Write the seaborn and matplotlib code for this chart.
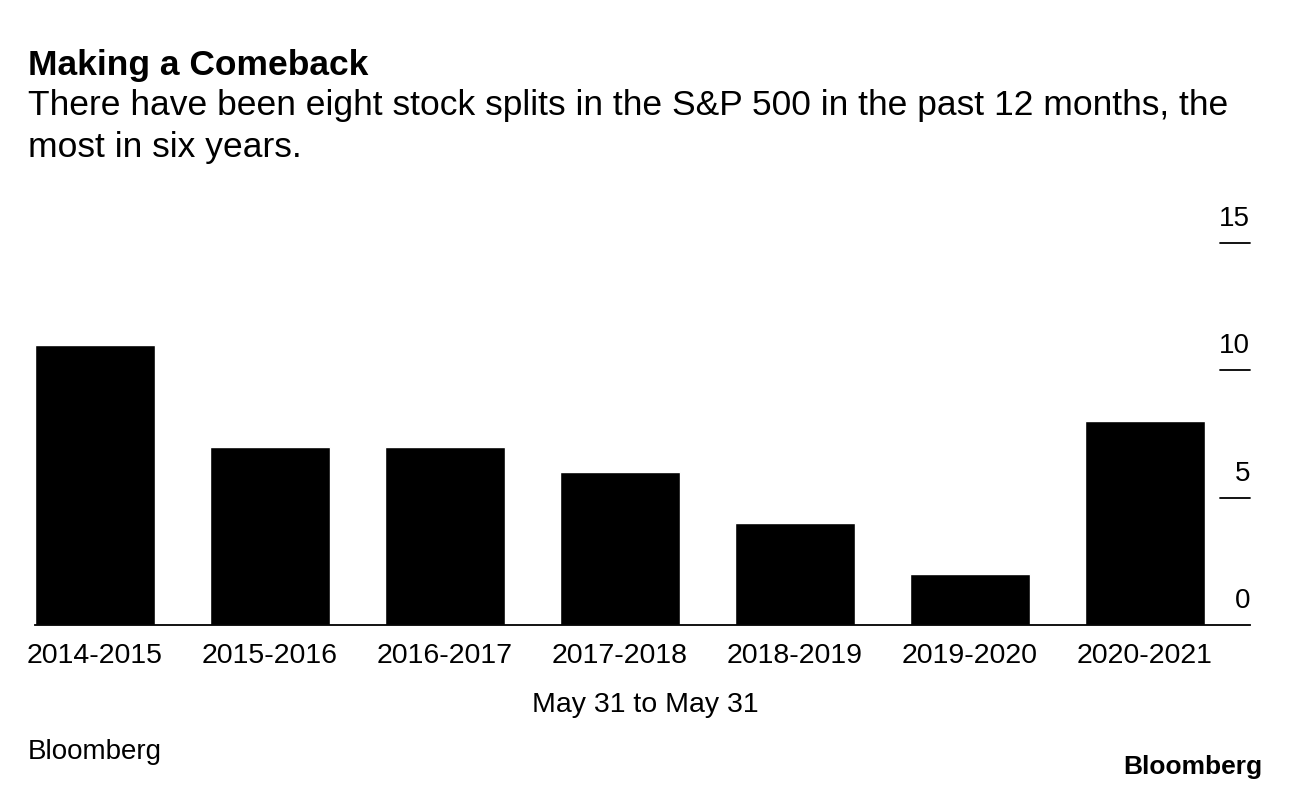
import matplotlib.pyplot as plt
import seaborn as sns

# data
periods = ['2014-2015', '2015-2016', '2016-2017', '2017-2018',
           '2018-2019', '2019-2020', '2020-2021']
splits = [11, 7, 7, 6, 4, 2, 8]
y_ticks = [0, 5, 10, 15]

sns.set_style('white')
plt.rcParams['font.family'] = ['Liberation Sans', 'DejaVu Sans']
plt.rcParams['text.color'] = 'black'

W, H = 1289, 790
fig = plt.figure(figsize=(W / 100, H / 100), dpi=100)
# axes box in pixels: x 35..1250, y 243..625
ax = fig.add_axes([35 / W, 1 - 625 / H, (1250 - 35) / W, (625 - 243) / H])

sns.barplot(x=periods, y=splits, color='black', saturation=1,
            width=120 / 175, ax=ax)

ax.set_xlim(-60 / 175, 6 + 105 / 175)
ax.set_ylim(0, 15)
for s in ['top', 'left', 'right']:
    ax.spines[s].set_visible(False)
ax.spines['bottom'].set_color('black')
ax.spines['bottom'].set_linewidth(1.3)
ax.set_yticks([])
ax.set_xlabel('')
ax.set_ylabel('')
ax.tick_params(axis='x', length=0, labelsize=20.5, pad=13, colors='black')

# right-hand value labels with short rules
tick_x0 = (1220 - 35) / (1250 - 35)
for v in y_ticks:
    if v > 0:
        ax.axhline(v, xmin=tick_x0, xmax=1, color='black', lw=1.3,
                   clip_on=False)
    ax.annotate(str(v), xy=(1, v), xycoords=('axes fraction', 'data'),
                xytext=(0, 11), textcoords='offset pixels',
                ha='right', va='bottom', fontsize=20)

fig.text(28 / W, 1 - 75 / H, 'Making a Comeback', fontsize=25.5,
         fontweight='bold', ha='left', va='baseline')
fig.text(28 / W, 1 - 115 / H,
         'There have been eight stock splits in the S&P 500 in the past 12 months, the',
         fontsize=25.5, ha='left', va='baseline')
fig.text(28 / W, 1 - 157 / H, 'most in six years.',
         fontsize=25.5, ha='left', va='baseline')
fig.text(645 / W, 1 - 712 / H, 'May 31 to May 31', fontsize=20.5,
         ha='center', va='baseline')
fig.text(28 / W, 1 - 759 / H, 'Bloomberg', fontsize=20,
         ha='left', va='baseline')
fig.text(1262 / W, 1 - 774 / H, 'Bloomberg', fontsize=19,
         fontweight='bold', ha='right', va='baseline')

fig.savefig('out.png', dpi=100)
